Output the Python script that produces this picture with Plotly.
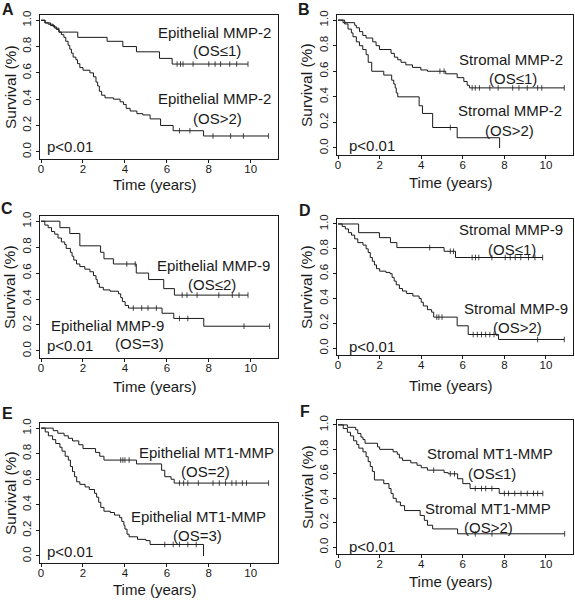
import numpy as np
import plotly.graph_objects as go

# ---------------- data ----------------
# Each curve: event times, survival after each event, last follow-up, censor times
A_hi_t = [0.2, 0.45, 0.65, 0.85, 1.75, 3.15, 3.9, 4.55, 5.65, 6.25]
A_hi_s = [0.98, 0.96, 0.94, 0.91, 0.87, 0.84, 0.80, 0.76, 0.71, 0.667]
A_hi_end = 9.87
A_hi_c = [6.49, 6.65, 6.77, 7.25, 8.0, 8.3, 8.56, 9.0, 9.33, 9.87]

A_lo_t = [0.18, 0.34, 0.58, 0.73, 0.86, 0.97, 1.09, 1.18, 1.29, 1.37, 1.45, 1.53, 1.66, 1.74,
          1.85, 2.0, 2.33, 2.5, 2.62, 2.7, 2.78, 2.89, 3.05, 3.45, 3.77, 3.93, 4.06, 4.25, 4.57,
          4.85, 5.2, 5.7, 6.3, 7.75]
A_lo_s = [0.98, 0.97, 0.95, 0.93, 0.91, 0.89, 0.87, 0.84, 0.81, 0.78, 0.75, 0.72, 0.70, 0.67,
          0.64, 0.62, 0.60, 0.57, 0.53, 0.50, 0.46, 0.43, 0.41, 0.40, 0.38, 0.36, 0.33, 0.31, 0.29,
          0.28, 0.25, 0.20, 0.16, 0.12]
A_lo_end = 10.85
A_lo_c = [6.6, 7.1, 8.2, 9.04, 9.65, 10.85]

B_hi_t = [0.24, 0.8, 0.88, 1.03, 1.19, 1.35, 1.67, 1.83, 1.99, 2.55, 2.71, 2.87, 3.03, 3.26,
          3.58, 3.98, 4.30, 5.18, 5.73, 6.05, 6.21, 6.32]
B_hi_s = [0.98, 0.96, 0.94, 0.91, 0.88, 0.86, 0.83, 0.80, 0.77, 0.74, 0.71, 0.69, 0.67, 0.65,
          0.63, 0.61, 0.60, 0.58, 0.55, 0.52, 0.49, 0.47]
B_hi_end = 10.88
B_hi_c = [4.9, 5.1, 6.45, 6.6, 6.8, 7.3, 7.7, 8.4, 8.7, 9.1, 9.6, 9.8, 10.88]

B_lo_t = [0.32, 0.48, 0.64, 0.72, 0.88, 1.03, 1.19, 1.35, 1.45, 1.62, 2.2, 2.58, 2.68, 2.75,
          2.8, 2.87, 3.9, 4.06, 4.55, 5.73, 7.77]
B_lo_s = [0.97, 0.93, 0.90, 0.87, 0.83, 0.80, 0.77, 0.73, 0.67, 0.60, 0.57, 0.53, 0.50, 0.47,
          0.43, 0.40, 0.33, 0.27, 0.16, 0.08, 0.0]
B_lo_end = 7.77
B_lo_c = [5.4]

C_hi_t = [0.9, 1.37, 1.85, 2.84, 3.0, 3.45, 4.54, 5.13, 5.85, 6.36]
C_hi_s = [0.95, 0.905, 0.81, 0.76, 0.71, 0.67, 0.60, 0.55, 0.48, 0.43]
C_hi_end = 9.87
C_hi_c = [4.09, 4.49, 6.73, 6.96, 7.44, 8.48, 9.12, 9.44, 9.87]

C_lo_t = [0.18, 0.34, 0.5, 0.65, 0.81, 0.97, 1.13, 1.2, 1.4, 1.48, 1.56, 1.69, 1.85, 2.09,
          2.33, 2.5, 2.62, 2.68, 2.78, 2.97, 3.29, 3.69, 3.8, 3.88, 4.01, 4.17, 5.77, 6.33, 7.76]
C_lo_s = [0.97, 0.95, 0.92, 0.90, 0.87, 0.84, 0.82, 0.79, 0.76, 0.73, 0.70, 0.67, 0.65, 0.63,
          0.61, 0.58, 0.55, 0.52, 0.49, 0.47, 0.46, 0.44, 0.41, 0.38, 0.35, 0.33, 0.29, 0.25, 0.19]
C_lo_end = 10.9
C_lo_c = [4.4, 4.8, 5.1, 5.5, 6.6, 7.0, 9.68, 10.9]

D_hi_t = [0.99, 1.99, 2.52, 2.83, 5.1, 5.65]
D_hi_s = [0.93, 0.89, 0.85, 0.81, 0.78, 0.73]
D_hi_end = 9.84
D_hi_c = [4.41, 5.4, 5.55, 6.45, 6.61, 6.77, 7.4, 8.04, 8.28, 8.52, 8.79, 9.16, 9.47, 9.84]

D_lo_t = [0.2, 0.35, 0.5, 0.65, 0.8, 0.95, 1.2, 1.35, 1.45, 1.55, 1.65, 1.75, 1.85, 2.0, 2.3,
          2.5, 2.6, 2.7, 2.8, 2.95, 3.1, 3.3, 3.6, 3.9, 4.0, 4.1, 4.3, 4.5, 4.6, 5.73, 6.26, 7.72]
D_lo_s = [0.98, 0.96, 0.93, 0.91, 0.88, 0.85, 0.83, 0.80, 0.77, 0.73, 0.70, 0.67, 0.64, 0.62,
          0.61, 0.60, 0.57, 0.54, 0.51, 0.48, 0.46, 0.44, 0.42, 0.40, 0.37, 0.34, 0.31, 0.29,
          0.25, 0.18, 0.11, 0.07]
D_lo_end = 10.88
D_lo_c = [4.75, 4.85, 5.0, 6.5, 6.7, 6.9, 7.1, 7.3, 7.5, 9.6, 10.88]

E_hi_t = [0.58, 0.8, 1.1, 1.3, 1.5, 1.8, 2.0, 2.6, 2.8, 3.0, 4.55, 5.75, 5.9, 6.2, 6.35]
E_hi_s = [0.98, 0.96, 0.94, 0.92, 0.90, 0.87, 0.84, 0.81, 0.78, 0.75, 0.72, 0.67, 0.62, 0.60, 0.57]
E_hi_end = 10.85
E_hi_c = [3.8, 3.9, 4.0, 4.2, 6.6, 6.8, 7.0, 7.5, 8.2, 8.5, 8.8, 9.1, 9.3, 9.6, 9.8, 10.85]

E_lo_t = [0.2, 0.35, 0.55, 0.7, 0.9, 1.0, 1.15, 1.3, 1.4, 1.5, 1.6, 1.7, 1.85, 2.1, 2.3, 2.55,
          2.65, 2.75, 2.85, 3.0, 3.3, 3.5, 3.75, 3.85, 3.95, 4.0, 4.1, 4.2, 4.6, 5.0, 5.2, 7.75]
E_lo_s = [0.97, 0.94, 0.91, 0.88, 0.85, 0.82, 0.78, 0.75, 0.70, 0.66, 0.62, 0.58, 0.56, 0.54,
          0.52, 0.49, 0.46, 0.42, 0.38, 0.35, 0.34, 0.32, 0.30, 0.27, 0.24, 0.21, 0.17, 0.15,
          0.13, 0.12, 0.09, 0.0]
E_lo_end = 7.75
E_lo_c = [5.9, 6.3, 6.6, 7.0, 7.4]

F_hi_t = [0.45, 0.85, 0.95, 1.1, 1.2, 1.3, 1.9, 2.0, 2.65, 2.85, 2.95, 3.1, 3.5, 3.8, 4.0, 4.3,
          5.1, 5.3, 5.75, 6.0, 6.35, 7.75]
F_hi_s = [0.98, 0.96, 0.93, 0.90, 0.88, 0.85, 0.82, 0.80, 0.78, 0.76, 0.73, 0.71, 0.69, 0.67,
          0.65, 0.63, 0.61, 0.60, 0.56, 0.52, 0.48, 0.44]
F_hi_end = 9.85
F_hi_c = [4.6, 5.4, 5.6, 6.6, 6.9, 7.1, 7.4, 8.0, 8.2, 8.5, 8.8, 9.1, 9.4, 9.6, 9.85]

F_lo_t = [0.25, 0.45, 0.6, 0.75, 0.9, 1.0, 1.2, 1.35, 1.45, 1.55, 1.65, 1.75, 2.2, 2.45, 2.55,
          2.65, 2.8, 3.0, 3.2, 3.95, 4.15, 4.3, 4.55, 5.75]
F_lo_s = [0.97, 0.94, 0.91, 0.87, 0.84, 0.81, 0.78, 0.74, 0.70, 0.66, 0.62, 0.55, 0.52, 0.48,
          0.44, 0.40, 0.37, 0.34, 0.30, 0.26, 0.22, 0.18, 0.15, 0.11]
F_lo_end = 10.9
F_lo_c = [6.6, 7.4, 10.9]

panel_letters = ["A", "B", "C", "D", "E", "F"]
x_ticks = [0, 2, 4, 6, 8, 10]
y_ticks = [0.0, 0.2, 0.4, 0.6, 0.8, 1.0]
y_ticktext = ["0.0", "0.2", "0.4", "0.6", "0.8", "1.0"]
x_title = "Time (years)"
y_title = "Survival (%)"
p_text = "p<0.01"

curves = [
    (A_hi_t, A_hi_s, A_hi_end, A_hi_c), (A_lo_t, A_lo_s, A_lo_end, A_lo_c),
    (B_hi_t, B_hi_s, B_hi_end, B_hi_c), (B_lo_t, B_lo_s, B_lo_end, B_lo_c),
    (C_hi_t, C_hi_s, C_hi_end, C_hi_c), (C_lo_t, C_lo_s, C_lo_end, C_lo_c),
    (D_hi_t, D_hi_s, D_hi_end, D_hi_c), (D_lo_t, D_lo_s, D_lo_end, D_lo_c),
    (E_hi_t, E_hi_s, E_hi_end, E_hi_c), (E_lo_t, E_lo_s, E_lo_end, E_lo_c),
    (F_hi_t, F_hi_s, F_hi_end, F_hi_c), (F_lo_t, F_lo_s, F_lo_end, F_lo_c),
]

# group labels per panel: (upper label, upper OS, lower label, lower OS)
labels = [
    ("Epithelial MMP-2", "(OS≤1)", "Epithelial MMP-2", "(OS>2)"),
    ("Stromal MMP-2", "(OS≤1)", "Stromal MMP-2", "(OS>2)"),
    ("Epithelial MMP-9", "(OS≤2)", "Epithelial MMP-9", "(OS=3)"),
    ("Stromal MMP-9", "(OS≤1)", "Stromal MMP-9", "(OS>2)"),
    ("Epithelial MT1-MMP", "(OS=2)", "Epithelial MT1-MMP", "(OS=3)"),
    ("Stromal MT1-MMP", "(OS≤1)", "Stromal MT1-MMP", "(OS>2)"),
]

# ---------------- layout geometry (pixels) ----------------
W, H = 575, 600
boxes = [  # left, right, top, bottom
    (40, 278, 15, 159), (337, 573, 15, 155),
    (40, 278, 216, 358), (337, 573, 219, 355),
    (40, 278, 423, 563), (337, 573, 420, 554),
]
# label positions: (x, y) for 4 label lines, p-text, letter, x-title y
label_pos = [
    [(214, 32), (217, 51), (214, 98), (217, 118), (70, 146), (8, 9), 184],
    [(511, 60), (513, 78), (510, 110), (509, 130), (372, 145), (304, 9), 183],
    [(213, 265), (212, 284), (107, 325), (139, 343), (70, 345), (7, 208), 386],
    [(511, 230), (512, 249), (516, 308), (517, 327), (372, 346), (305, 210), 385],
    [(206, 452), (205, 471), (198, 516), (197, 535), (70, 551), (7, 413), 589],
    [(490, 453), (492, 473), (488, 508), (488, 527), (372, 546), (305, 411), 581],
]

FONT = "Liberation Sans, Arial, Helvetica, sans-serif"
INK = "#1a1a1a"

fig = go.Figure()


def step_xy(t, s, end):
    x = [0.0] + list(t)
    y = [1.0] + list(s)
    if end > t[-1]:
        x.append(end)
        y.append(s[-1])
    return x, y


def surv_at(t, s, times):
    t = np.asarray(t)
    s = np.asarray([1.0] + list(s))
    idx = np.searchsorted(t, np.asarray(times), side="right")
    return s[idx]


for i, (t, s, end, cens) in enumerate(curves):
    p = i // 2 + 1
    xa = "x" if p == 1 else f"x{p}"
    ya = "y" if p == 1 else f"y{p}"
    x, y = step_xy(t, s, end)
    fig.add_trace(go.Scatter(x=x, y=y, mode="lines", line=dict(color=INK, width=1, shape="hv"),
                             xaxis=xa, yaxis=ya, hoverinfo="skip"))
    fig.add_trace(go.Scatter(x=cens, y=surv_at(t, s, cens), mode="markers",
                             marker=dict(symbol="line-ns", size=4, line=dict(color=INK, width=0.8)),
                             xaxis=xa, yaxis=ya, hoverinfo="skip"))

axis_common = dict(showline=True, mirror=True, linecolor=INK, linewidth=1, ticks="outside",
                   ticklen=3, tickwidth=1, tickcolor=INK, showgrid=False, zeroline=False,
                   tickfont=dict(family=FONT, size=11.5, color=INK), automargin=False)

layout = dict(width=W, height=H, margin=dict(l=0, r=0, t=0, b=0), showlegend=False,
              plot_bgcolor="white", paper_bgcolor="white")

annotations = []


def ann(text, px, py, size=15, bold=False, angle=0, xanchor="center"):
    annotations.append(dict(text=f"<b>{text}</b>" if bold else text, x=px / W, y=1 - py / H,
                            xref="paper", yref="paper", showarrow=False, xanchor=xanchor,
                            yanchor="middle", textangle=angle,
                            font=dict(family=FONT, size=size, color=INK)))


for k, (l, r, tp, b) in enumerate(boxes):
    n = "" if k == 0 else str(k + 1)
    layout[f"xaxis{n}"] = dict(domain=[l / W, r / W], range=[-0.05, 11.3],
                               anchor=f"y{n}", tickvals=x_ticks, ticklabelstandoff=-4,
                               **axis_common)
    layout[f"yaxis{n}"] = dict(domain=[1 - b / H, 1 - tp / H], range=[-0.055, 1.04],
                               anchor=f"x{n}", tickvals=y_ticks, ticktext=y_ticktext,
                               tickangle=-90, **axis_common)
    lp = label_pos[k]
    up1, up2, lo1, lo2 = labels[k]
    ann(up1, *lp[0])
    ann(up2, *lp[1])
    ann(lo1, *lp[2])
    ann(lo2, *lp[3])
    ann(p_text, *lp[4])
    ann(panel_letters[k], *lp[5], size=16, bold=True)
    ann(x_title, (l + r) / 2 - 4, lp[6], size=15)
    ann(y_title, l - 30, (tp + b) / 2, size=15.5, angle=-90)

layout["annotations"] = annotations
fig.update_layout(**layout)
fig.write_html("out.html", config={"displayModeBar": False},
               post_script="document.body.style.margin='0';document.body.style.padding='0';")
